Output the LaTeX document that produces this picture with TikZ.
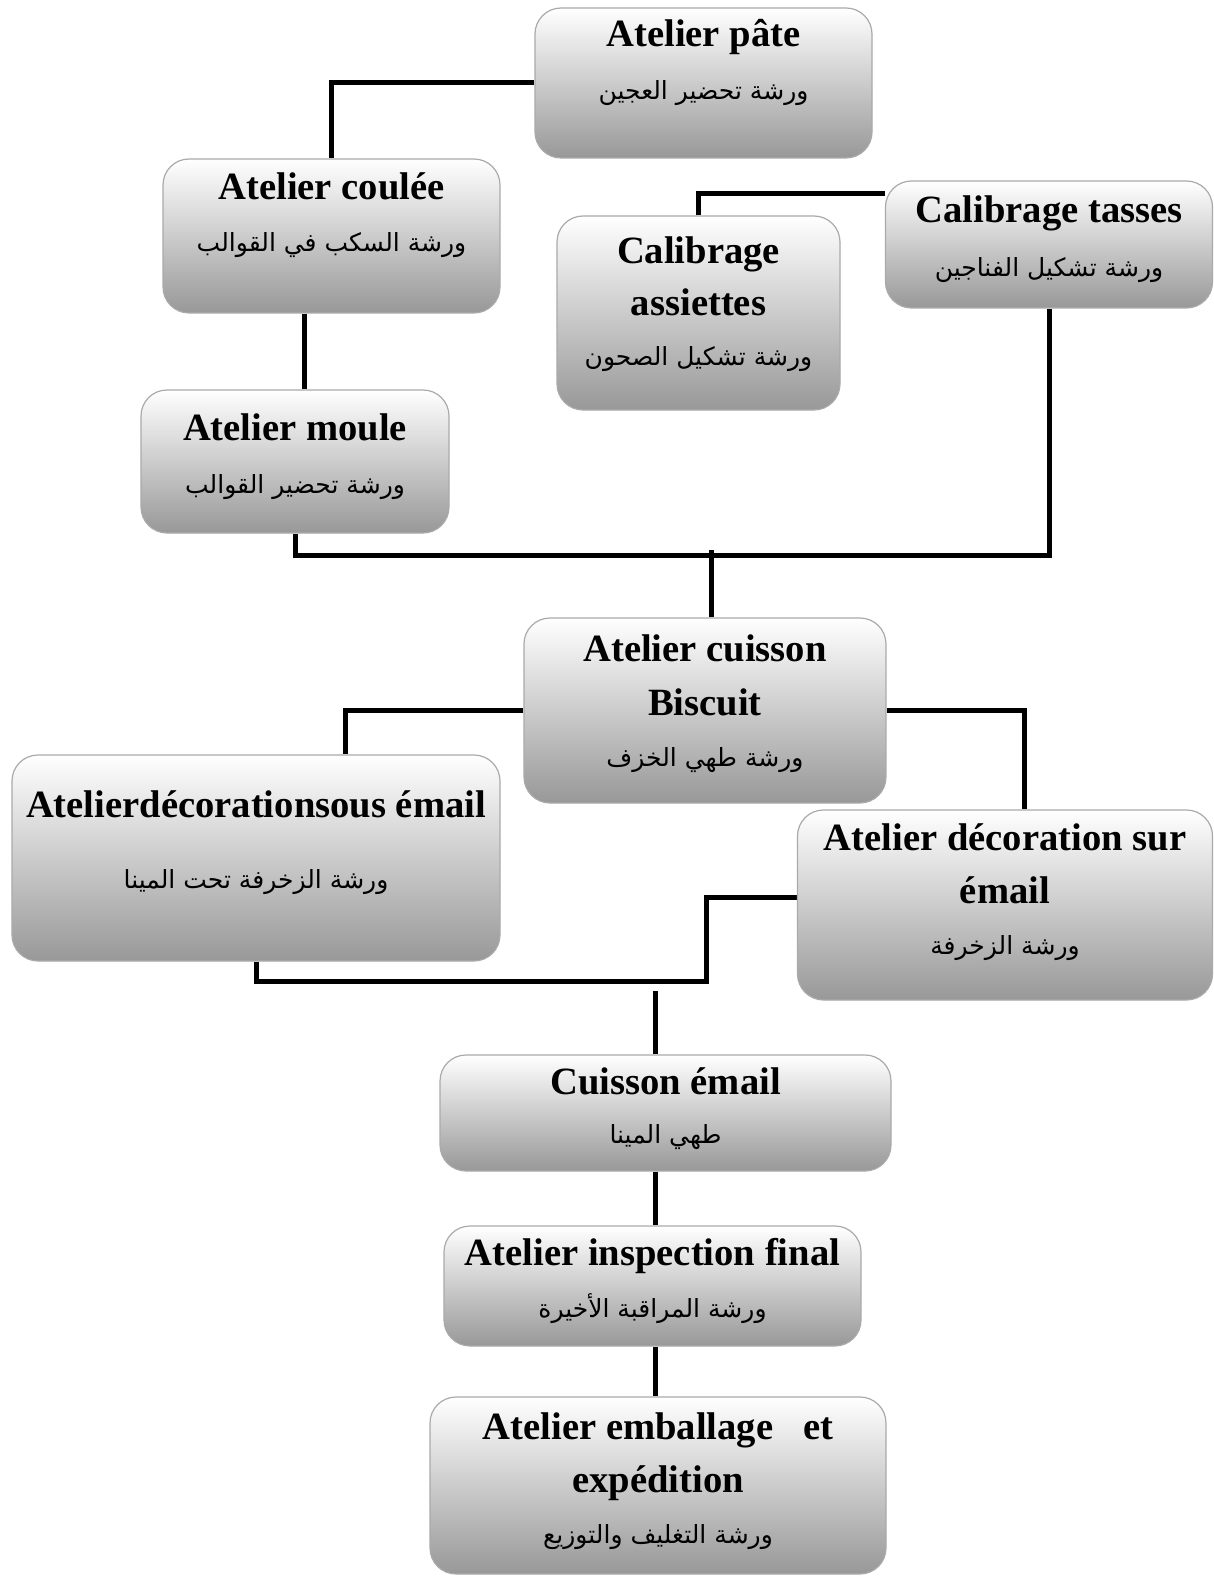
\documentclass[tikz,border=0pt]{standalone}
\usepackage{fontspec}
\setmainfont{Liberation Serif}
\newfontfamily\arfont[Script=Arabic]{DejaVu Sans}
\TeXXeTstate=1
\usetikzlibrary{backgrounds}
\definecolor{boxbot}{RGB}{152,152,152}
\definecolor{boxedge}{RGB}{170,170,170}

\begin{document}
\begin{tikzpicture}[x=1pt,y=-1pt,
  unit/.style={draw=boxedge, line width=1.2pt, rounded corners=26pt,
    top color=white, bottom color=boxbot, inner sep=0pt},
  head/.style={font=\fontsize{38.6}{40}\selectfont\bfseries, anchor=base, inner sep=0pt},
  sub/.style={font=\fontsize{25}{28}\selectfont\arfont, inner sep=0pt},
  link/.style={line width=5pt, black}]

\useasboundingbox (0,0) rectangle (1214,1578);

% workshops
\node[unit, minimum width=337pt, minimum height=150pt] (p1) at (703.5,83) {};
\node[head] (p1t) at (703.5,47) {Atelier pâte};
\node[sub] (p1a) at (703.5,93) {\beginR ورشة تحضير العجين\endR};

\node[unit, minimum width=337pt, minimum height=154pt] (p2) at (331.5,236) {};
\node[head] (p2t) at (331.5,200) {Atelier coulée};
\node[sub] (p2a) at (331.5,245) {\beginR ورشة السكب في القوالب\endR};

\node[unit, minimum width=283pt, minimum height=194pt] (p3) at (698.5,313) {};
\node[head] (p3t1) at (698.5,264) {Calibrage};
\node[head] (p3t2) at (698.5,316) {assiettes};
\node[sub] (p3a) at (698.5,359) {\beginR ورشة تشكيل الصحون\endR};

\node[unit, minimum width=327pt, minimum height=127pt] (p4) at (1049,244.5) {};
\node[head] (p4t) at (1049,223) {Calibrage tasses};
\node[sub] (p4a) at (1049,270) {\beginR ورشة تشكيل الفناجين\endR};

\node[unit, minimum width=308pt, minimum height=143pt] (p5) at (295,461.5) {};
\node[head] (p5t) at (295,440) {Atelier moule};
\node[sub] (p5a) at (295,487) {\beginR ورشة تحضير القوالب\endR};

\node[unit, minimum width=362pt, minimum height=185pt] (p6) at (705,710.5) {};
\node[head] (p6t1) at (705,661) {Atelier cuisson};
\node[head] (p6t2) at (705,715) {Biscuit};
\node[sub] (p6a) at (705,760) {\beginR ورشة طهي الخزف\endR};

\node[unit, minimum width=488pt, minimum height=206pt] (p7) at (256,858) {};
\node[head] (p7t) at (256,817) {Atelierdécorationsous émail};
\node[sub] (p7a) at (256,882) {\beginR ورشة الزخرفة تحت المينا\endR};

\node[unit, minimum width=415pt, minimum height=190pt] (p8) at (1005,905) {};
\node[head] (p8t1) at (1005,850) {Atelier décoration sur};
\node[head] (p8t2) at (1005,903) {émail};
\node[sub] (p8a) at (1005,948) {\beginR ورشة الزخرفة\endR};

\node[unit, minimum width=451pt, minimum height=116pt] (p9) at (665.5,1113) {};
\node[head] (p9t) at (665.5,1094) {Cuisson émail};
\node[sub] (p9a) at (665.5,1137) {\beginR طهي المينا\endR};

\node[unit, minimum width=417pt, minimum height=120pt] (p10) at (652.5,1286) {};
\node[head] (p10t) at (652.5,1265) {Atelier inspection final};
\node[sub] (p10a) at (652.5,1309) {\beginR ورشة المراقبة الأخيرة\endR};

\node[unit, minimum width=456pt, minimum height=177pt] (p11) at (658,1485.5) {};
\node[head] (p11t1) at (658,1439) {Atelier emballage\hspace{30pt}et};
\node[head] (p11t2) at (658,1492) {expédition};
\node[sub] (p11a) at (658,1537) {\beginR ورشة التغليف والتوزيع\endR};

% routing points
\coordinate (k1) at (304,0);
\coordinate (k2) at (0,194);
\coordinate (j1) at (711,555);
\coordinate (j1top) at (711,550);
\coordinate (k3) at (345,0);
\coordinate (k4) at (1024,0);
\coordinate (k5) at (706,981);
\coordinate (k6) at (0,897);
\coordinate (k7) at (655,991);

% page and connectors, kept behind the boxes
\begin{scope}[on background layer]
\fill[white] (0,0) rectangle (1214,1578);
\draw[link] (p1.west) -| (p2.north);
\draw[link] (p2.south -| k1) -- (p5.north -| k1);
\draw[link] (p3.north) |- (p4.west |- k2);
\draw[link] (p4.south) |- (j1) -| (p5.south);
\draw[link] (j1top) -- (p6.north -| j1top);
\draw[link] (p6.west) -| (p7.north -| k3);
\draw[link] (p6.east) -| (p8.north -| k4);
\draw[link] (p8.west |- k6) -| (k5) -| (p7.south);
\draw[link] (k7) -- (p9.north -| k7);
\draw[link] (p9.south -| k7) -- (p10.north -| k7);
\draw[link] (p10.south -| k7) -- (p11.north -| k7);
\end{scope}
\end{tikzpicture}
\end{document}
